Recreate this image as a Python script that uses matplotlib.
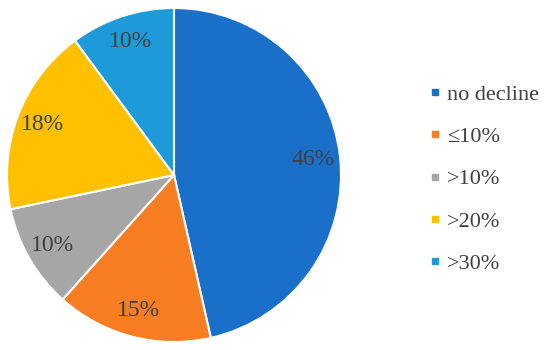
import matplotlib
matplotlib.use("Agg")
import matplotlib.pyplot as plt
from matplotlib.lines import Line2D

categories = ["no decline", "\u226410%", ">10%", ">20%", ">30%"]
values = [46, 15, 10, 18, 10]
colors = ["#1a70c8", "#f87d23", "#a6a6a6", "#ffc000", "#1f9ad8"]

plt.rcParams['font.family'] = ['Liberation Serif', 'DejaVu Serif']

fig = plt.figure(figsize=(5.5, 3.5), dpi=100)
W, H = 550, 350
cx, cy, r = 174, 175, 167
ax = fig.add_axes([(cx - r) / W, (H - cy - r) / H, 2 * r / W, 2 * r / H])
wedges, texts, autotexts = ax.pie(
    values, colors=colors, startangle=90, counterclock=False,
    autopct=lambda p: f"{p*sum(values)/100:.0f}%", pctdistance=0.84,
    wedgeprops=dict(edgecolor="white", linewidth=1.5),
    textprops=dict(color="#404040", fontsize=17), radius=1)
ax.set_xlim(-1, 1)
ax.set_ylim(-1, 1)
ax.set_aspect('equal')
ax.axis('off')

handles = [Line2D([], [], marker='s', linestyle='none', markersize=5,
                  markerfacecolor=c, markeredgecolor=c) for c in colors]
leg = fig.legend(handles, categories, loc='center left',
                 bbox_to_anchor=(429 / W, 1 - 179 / H), frameon=False,
                 fontsize=16, labelspacing=0.98, handlelength=0.55,
                 handletextpad=0.25, borderpad=0, borderaxespad=0,
                 labelcolor="#404040")

fig.savefig("out.png", dpi=100)
